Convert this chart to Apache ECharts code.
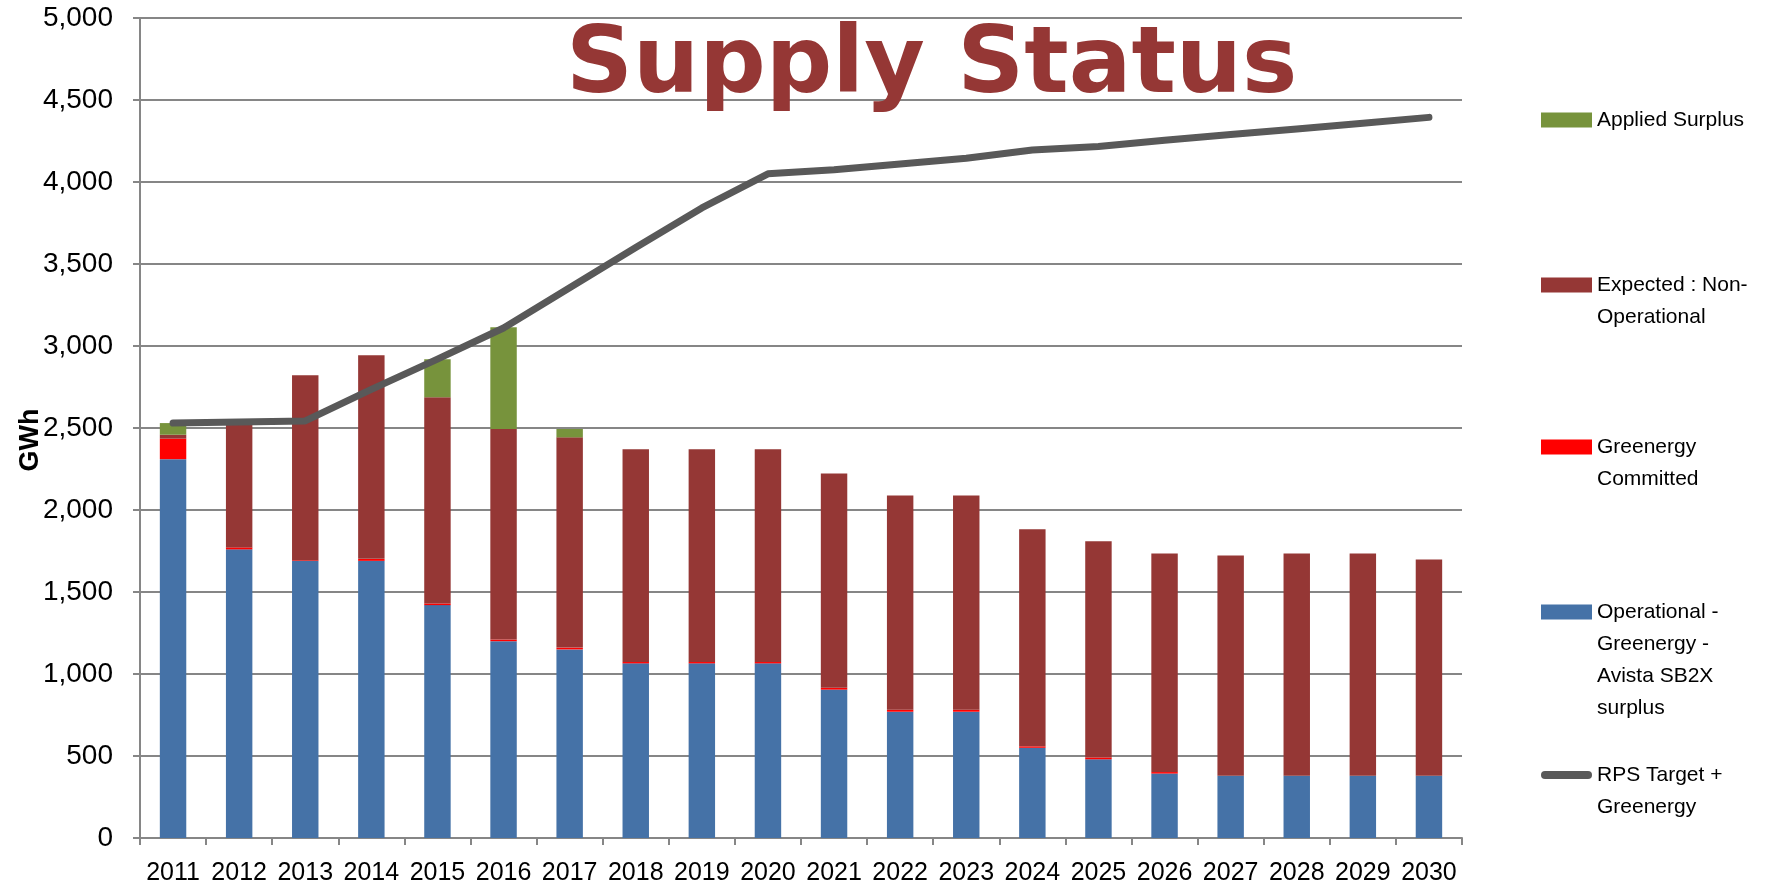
<!DOCTYPE html>
<html>
<head>
<meta charset="utf-8">
<title>Supply Status</title>
<script src="https://cdn.jsdelivr.net/npm/echarts@6/dist/echarts.min.js"></script>
<style>
html,body{margin:0;padding:0;background:#fff;}
#main{width:1787px;height:884px;}
</style>
</head>
<body>
<div id="main"></div>
<script>
var years = ["2011","2012","2013","2014","2015","2016","2017","2018","2019","2020",
	"2021","2022","2023","2024","2025","2026","2027","2028","2029","2030"];
var yTicks = [0,500,1000,1500,2000,2500,3000,3500,4000,4500,5000];

// stacked from the bottom up
var operational = [2310,1760,1690,1690,1420,1200,1150,1065,1065,1065,905,770,770,550,480,393,380,380,380,380];
var committed   = [125,12,4,12,10,10,11,8,8,8,11,12,12,9,11,9,0,0,0,0];
var expected    = [24,753,1127,1241,1257,1284,1282,1297,1297,1297,1307,1307,1307,1323,1318,1332,1343,1354,1354,1318];
var applied     = [71,0,0,0,232,620,51,0,0,0,0,0,0,0,0,0,0,0,0,0];
var rpsTarget   = [2530,2537,2543,2735,2920,3110,3355,3600,3842,4050,4075,4110,4145,4195,4217,4254,4289,4323,4358,4394];

var legendText = {
	"Applied": "Applied Surplus",
	"Expected": "Expected : Non-\nOperational",
	"Committed": "Greenergy\nCommitted",
	"Operational": "Operational -\nGreenergy -\nAvista SB2X\nsurplus",
	"RPS": "RPS Target +\nGreenergy"
};
var colors = {
	"Operational": "#4572A7",
	"Committed": "#FF0000",
	"Expected": "#953735",
	"Applied": "#77933C",
	"RPS": "#595959"
};

var lineH = 32;
// first text line sits level with the swatch: pad the top with empty lines
var makeLegend = function(name, centerY, icon, iconH){
	var n = legendText[name].split("\n").length;
	var pad = new Array(n).join("\n");
	return {
		orient: "vertical",
		left: 1541,
		top: centerY - (2*n-1)*lineH/2,
		padding: 0,
		itemWidth: 51,
		itemHeight: iconH,
		icon: icon,
		selectedMode: false,
		data: [name],
		formatter: function(v){ return pad + legendText[v]; },
		textStyle: {
			fontFamily: "Liberation Sans",
			fontSize: 21,
			color: "#000",
			lineHeight: lineH
		}
	};
};

var fmt = function(v){
	return String(v).replace(/\B(?=(\d{3})+(?!\d))/g, ",");
};

var barSeries = function(name, data){
	return {
		name: name,
		type: "bar",
		stack: "supply",
		barWidth: "40%",
		data: data,
		itemStyle: {color: colors[name]}
	};
};

var chart = echarts.init(document.getElementById("main"));
var option = {
	animation: false,
	backgroundColor: "#fff",
	title: {
		text: "Supply Status",
		left: 566,
		top: 21,
		padding: 0,
		textStyle: {
			fontFamily: "DejaVu Sans",
			fontWeight: "bold",
			fontSize: 93,
			color: "#953735"
		}
	},
	legend: [
		makeLegend("Applied", 120, "rect", 15),
		makeLegend("Expected", 285, "rect", 15),
		makeLegend("Committed", 447, "rect", 15),
		makeLegend("Operational", 612, "rect", 15),
		makeLegend("RPS", 775, "path://M4,0H47A4,4,0,0,1,47,8H4A4,4,0,0,1,4,0Z", 8)
	],
	grid: {left: 140, right: 325, top: 18, bottom: 46, outerBoundsMode: "none"},
	xAxis: {
		type: "category",
		data: years,
		axisLine: {lineStyle: {color: "#868686", width: 2}},
		axisTick: {show: true, length: 7, lineStyle: {color: "#868686", width: 2}},
		axisLabel: {fontFamily: "Liberation Sans", fontSize: 25, color: "#000", margin: 23, interval: 0}
	},
	yAxis: {
		type: "value",
		min: yTicks[0],
		max: yTicks[yTicks.length-1],
		interval: yTicks[1]-yTicks[0],
		name: "GWh",
		nameLocation: "middle",
		nameGap: 96,
		nameMoveOverlap: false,
		nameTextStyle: {fontFamily: "Liberation Sans", fontWeight: "bold", fontSize: 27, color: "#000", padding: [0,24,0,0]},
		axisLine: {show: true, lineStyle: {color: "#868686", width: 2}},
		axisTick: {show: true, length: 7, lineStyle: {color: "#868686", width: 2}},
		axisLabel: {fontFamily: "Liberation Sans", fontSize: 28, color: "#000", margin: 27, formatter: fmt},
		splitLine: {lineStyle: {color: "#868686", width: 2}}
	},
	series: [
		barSeries("Operational", operational),
		barSeries("Committed", committed),
		barSeries("Expected", expected),
		barSeries("Applied", applied),
		{
			name: "RPS",
			type: "line",
			data: rpsTarget,
			symbol: "none",
			itemStyle: {color: colors["RPS"]},
			lineStyle: {color: colors["RPS"], width: 7, cap: "round", join: "round"},
			z: 5
		}
	]
};
chart.setOption(option);
</script>
</body>
</html>
